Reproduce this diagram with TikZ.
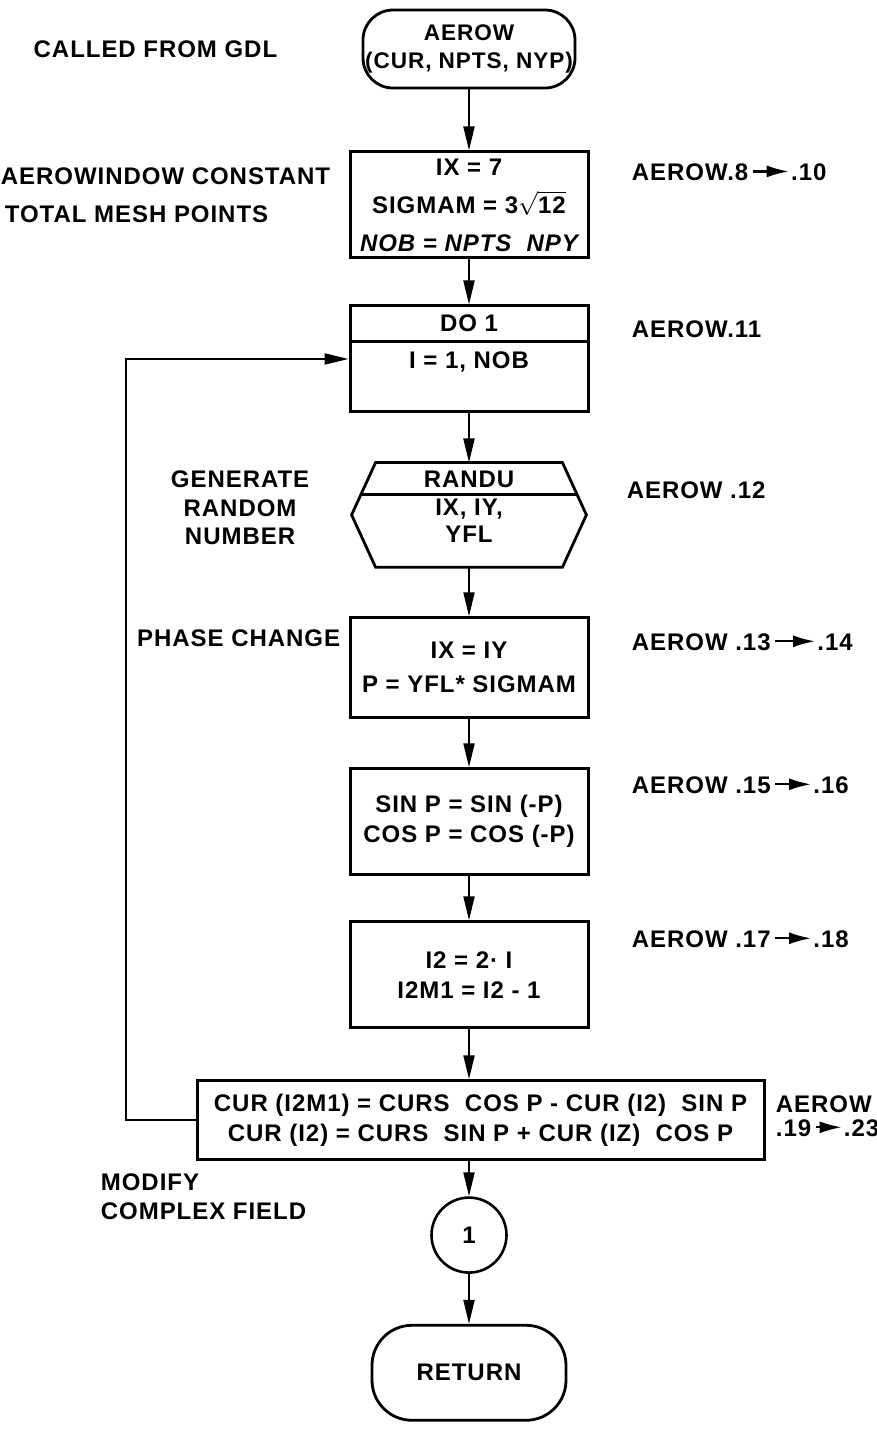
\documentclass[tikz,border=0pt]{standalone}
\usepackage{fontspec}
\setmainfont{Liberation Sans}[LetterSpace=4]
\usetikzlibrary{arrows.meta,positioning,calc}
\tikzset{
  txt/.style    = {font=\fontsize{12}{15}\selectfont\bfseries, align=center},
  term/.style   = {txt, rectangle, rounded corners=15pt, draw, line width=1.4pt,
                   minimum width=106pt, minimum height=39pt, inner sep=0.5pt},
  proc/.style   = {txt, rectangle, draw, line width=1.5pt,
                   minimum width=119pt, minimum height=53pt},
  conn/.style   = {txt, circle, draw, line width=1.3pt, minimum size=37.5pt, inner sep=0pt},
  note/.style   = {txt, inner sep=1pt},
  ref/.style    = {txt, inner sep=1pt, anchor=west, text height=9pt, text depth=0pt},
  hexline/.style = {line width=1.4pt, line join=miter},
  flow/.style   = {-{Triangle[length=12pt,width=5.5pt]}, line width=1pt},
  refarr/.style = {-{Latex[length=11pt,width=6pt]}, line width=1.1pt, shorten <=1pt},
}

\begin{document}
\begin{tikzpicture}[node distance=25pt]
\useasboundingbox (0,0) rectangle (438.5pt,-718.5pt);

% entry
\node[term, font=\fontsize{11.3}{14}\selectfont\bfseries] (start) at (234.5pt,-24.5pt)
  {AEROW\\(CUR, NPTS, NYP)};
\node[note, left=41pt of start] (called) {CALLED FROM GDL};

% constants
\node[proc, below=30.5pt of start] (init) {%
  IX = 7\\[4pt]
  SIGMAM = 3$\sqrt{\mbox{12}}$\\[4pt]
  {\itshape NOB = NPTS\ \ NPY}};
\draw[flow] (start) -- (init);
\node[note, anchor=east, align=left] (constlbl) at ([xshift=-8pt,yshift=5pt]init.west)
  {AEROWINDOW CONSTANT\\[4pt]\hspace*{2pt}TOTAL MESH POINTS};

% loop head
\node[proc, below=22.5pt of init] (do) {};
\draw[line width=1.3pt] ([yshift=-18.5pt]do.north west) -- ([yshift=-18.5pt]do.north east);
\node[note] (dohead) at ([yshift=-9.25pt]do.north) {DO 1};
\node[note] (dorange) at ([yshift=-28.5pt]do.north) {I = 1, NOB};
\draw[flow] (init) -- (do);

% random number
\node[txt, minimum width=93pt, minimum height=52pt, below=24.5pt of do] (randu) {};
\draw[hexline] (randu.north west) -- (randu.north east) -- ([xshift=12pt]randu.east)
  -- (randu.south east) -- (randu.south west) -- ([xshift=-12pt]randu.west) -- cycle;
\draw[line width=1.3pt] ([xshift=-7.4pt,yshift=-16pt]randu.north west)
  -- ([xshift=7.4pt,yshift=-16pt]randu.north east);
\node[note] (randuname) at ([yshift=-8.5pt]randu.north) {RANDU};
\node[note, anchor=north] (randuargs) at ([yshift=-17pt]randu.north) {IX, IY,\\[-1.5pt]YFL};
\draw[flow] (do) -- (randu);
\node[note, anchor=east] (genlbl) at ([xshift=-32pt,yshift=3.5pt]randu.west)
  {GENERATE\\[-0.75pt]RANDOM\\[-0.75pt]NUMBER};

% phase
\node[proc, below=24.5pt of randu, minimum height=50pt] (phase) {IX = IY\\[2pt]P = YFL* SIGMAM};
\draw[flow] (randu) -- (phase);
\node[note, anchor=east] (phaselbl) at ([xshift=-3pt,yshift=-11pt]phase.north west) {PHASE CHANGE};

\node[proc, below=24pt of phase] (sincos) {SIN P = SIN (-P)\\COS P = COS (-P)};
\draw[flow] (phase) -- (sincos);

\node[proc, below=22pt of sincos] (idx) {I2 = 2· I\\I2M1 = I2 - 1};
\draw[flow] (sincos) -- (idx);

% complex field
\node[proc, below=25pt of idx, xshift=5.75pt, minimum width=283.5pt, minimum height=39.5pt] (mod)
  {CUR (I2M1) = CURS\ \ COS P - CUR (I2)\ \ SIN P\\
   CUR (I2) = CURS\ \ SIN P + CUR (IZ)\ \ COS P};
\draw[flow] (idx) -- (idx |- mod.north);
\node[note, anchor=north west, align=left] (modlbl) at ([xshift=-48.5pt,yshift=-5pt]mod.south west)
  {MODIFY\\[-0.5pt]COMPLEX FIELD};

% back to DO
\draw[flow] (mod.west) -- ++(-35pt,0) |- (do.west);

\node[conn, below=17.5pt of mod.south -| idx, anchor=north] (conn) {1};
\draw[flow] (idx |- mod.south) -- (conn);

\node[term, rounded corners=20pt, minimum width=97pt, minimum height=47.5pt, below=25pt of conn] (ret) {RETURN};
\draw[flow] (conn) -- (ret);

% statement refs
\node[ref] (ref8) at ([xshift=20pt,yshift=-10.5pt]init.north east) {AEROW.8};
\node[ref, right=19pt of ref8] (ref10) {.10};
\draw[refarr] (ref8) -- (ref10);

\node[ref] (ref11) at ([xshift=20pt,yshift=-12pt]do.north east) {AEROW.11};

\node[ref] (ref12) at ([xshift=31pt,yshift=-13.5pt]randu.north east) {AEROW .12};

\node[ref] (ref13) at ([xshift=20pt,yshift=-12.5pt]phase.north east) {AEROW .13};
\node[ref, right=21pt of ref13] (ref14) {.14};
\draw[refarr] (ref13) -- (ref14);

\node[ref] (ref15) at ([xshift=20pt,yshift=-8.5pt]sincos.north east) {AEROW .15};
\node[ref, right=19pt of ref15] (ref16) {.16};
\draw[refarr] (ref15) -- (ref16);

\node[ref] (ref17) at ([xshift=20pt,yshift=-9pt]idx.north east) {AEROW .17};
\node[ref, right=19pt of ref17] (ref18) {.18};
\draw[refarr] (ref17) -- (ref18);

\node[ref] (ref19w) at ([xshift=4pt,yshift=-12pt]mod.north east) {AEROW};
\node[ref] (ref19) at ([yshift=-12pt]ref19w.west) {.19};
\node[ref, right=14pt of ref19] (ref23) {.23};
\draw[refarr] (ref19) -- (ref23);

\end{tikzpicture}
\end{document}
